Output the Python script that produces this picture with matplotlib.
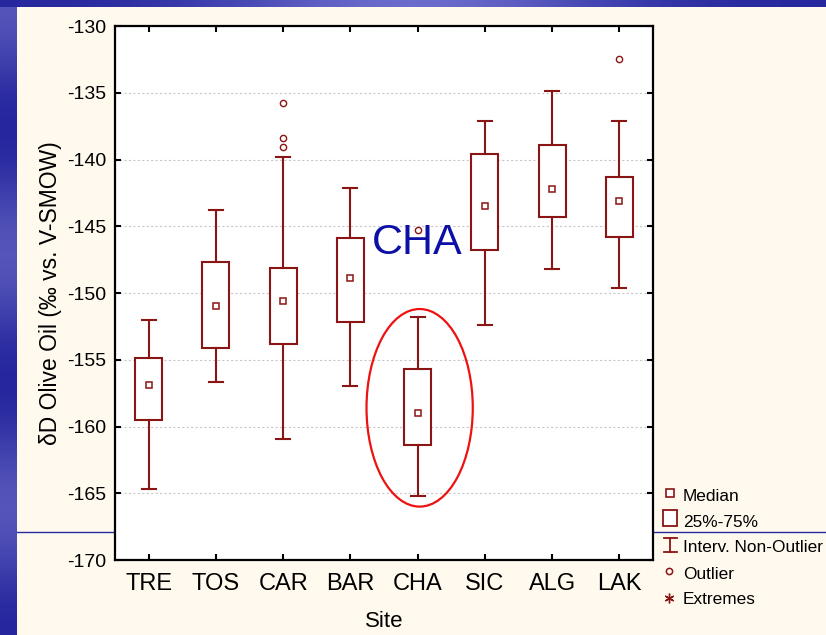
import numpy as np
import matplotlib
matplotlib.use("Agg")
import matplotlib.pyplot as plt
from matplotlib.patches import Ellipse, Rectangle
from matplotlib.lines import Line2D

plt.rcParams['font.family'] = ['Liberation Sans', 'DejaVu Sans']
plt.rcParams['axes.unicode_minus'] = False

# Box-plot summary of deuterium values per site
sites = ["TRE", "TOS", "CAR", "BAR", "CHA", "SIC", "ALG", "LAK"]
medians = [-156.9, -151.0, -150.6, -148.9, -159.0, -143.5, -142.2, -143.1]
q25 = [-159.5, -154.1, -153.8, -152.2, -161.4, -146.8, -144.3, -145.8]
q75 = [-154.9, -147.7, -148.1, -145.9, -155.7, -139.6, -138.9, -141.3]
whisker_low = [-164.7, -156.7, -160.9, -157.0, -165.2, -152.4, -148.2, -149.6]
whisker_high = [-152.0, -143.8, -139.8, -142.1, -151.8, -137.1, -134.9, -137.1]
outliers = {
    "CAR": [-135.8, -138.4, -139.1],
    "CHA": [-145.3],
    "LAK": [-132.5],
}
y_ticks = [-130, -135, -140, -145, -150, -155, -160, -165, -170]

BOX = "#8B1414"
BG = "#FFF9EE"

fig = plt.figure(figsize=(8.26, 6.35), dpi=100)
fig.patch.set_facecolor(BG)

# slide decoration: blue bands on the left and top edges
W, H = 826, 635
band = fig.add_axes([0, 0, 17 / W, 1], zorder=-5)
col_l = np.array([0.15, 0.15, 0.62])
col_h = np.array([0.45, 0.45, 0.80])
prof = 0.5 + 0.5 * np.cos(np.linspace(0, 5 * np.pi, 200))
img = col_l[None, :] * (1 - prof[:, None] * 0.6) + col_h[None, :] * (prof[:, None] * 0.6)
band.imshow(img[:, None, :], aspect="auto", extent=[0, 1, 0, 1])
band.axis("off")

topband = fig.add_axes([0, 1 - 7 / H, 1, 7 / H], zorder=-5)
prof2 = np.exp(-((np.linspace(0, 1, 300) - 0.5) / 0.25) ** 2)
img2 = col_l[None, :] * (1 - prof2[:, None]) + np.array([0.42, 0.42, 0.80])[None, :] * prof2[:, None]
topband.imshow(img2[None, :, :], aspect="auto", extent=[0, 1, 0, 1])
topband.axis("off")

# thin blue rule across the slide
fig.add_artist(Line2D([17 / W, 1], [1 - 531.5 / H, 1 - 531.5 / H],
                      color="#2828A0", lw=1.0, zorder=-4))

ax = fig.add_axes([115 / W, 1 - 560 / H, 538 / W, 534 / H])
ax.set_facecolor("white")

positions = np.arange(1, len(sites) + 1)
stats = []
for i, s in enumerate(sites):
    stats.append(dict(med=medians[i], q1=q25[i], q3=q75[i],
                      whislo=whisker_low[i], whishi=whisker_high[i],
                      fliers=[], label=s))

ax.bxp(stats, positions=positions, widths=0.4, capwidths=0.21,
       patch_artist=True, showfliers=False,
       boxprops=dict(facecolor="white", edgecolor=BOX, linewidth=1.5),
       whiskerprops=dict(color=BOX, linewidth=1.5),
       capprops=dict(color=BOX, linewidth=1.5),
       medianprops=dict(linestyle="none"))

ax.plot(positions, medians, linestyle="none", marker="s", markersize=5,
        markerfacecolor="white", markeredgecolor=BOX, markeredgewidth=1.1, zorder=4)

for s, vals in outliers.items():
    x = sites.index(s) + 1
    ax.plot([x] * len(vals), vals, linestyle="none", marker="o", markersize=4.5,
            markerfacecolor="none", markeredgecolor=BOX, markeredgewidth=1.0, zorder=4)

ax.set_xlim(0.5, 8.5)
ax.set_ylim(-170, -130)
ax.set_yticks(y_ticks)
ax.set_xticks(positions)
ax.set_xticklabels(sites, fontsize=17)
ax.tick_params(axis="y", labelsize=14, pad=6)
ax.tick_params(direction="in", length=4, width=1.5, top=True, right=True)
ax.tick_params(axis="x", pad=9)
ax.yaxis.grid(True, color="#C8C8C8", linestyle=(0, (2, 2)), linewidth=0.8)
ax.set_axisbelow(True)
for sp in ax.spines.values():
    sp.set_linewidth(1.6)

ax.set_ylabel("\u03b4D Olive Oil (\u2030 vs. V-SMOW)", fontsize=16.5, labelpad=4)
ax.set_xlabel("Site", fontsize=16, labelpad=12)

# highlight on CHA
ax.add_patch(Ellipse((5.03, -158.6), 1.58, 14.8, fill=False,
                     edgecolor="#EE1111", linewidth=1.6, zorder=5))
ax.text(5.0, -147.1, "CHA", color="#0C10A6", fontsize=31,
        ha="center", va="baseline", zorder=1)

# legend drawn in figure pixel space
def fx(px):
    return px / W

def fy(py):
    return 1 - py / H

lx = 670
fig.add_artist(Line2D([fx(lx)], [fy(493)], marker="s", markersize=5.5,
                      markerfacecolor="white", markeredgecolor=BOX,
                      markeredgewidth=1.2, linestyle="none"))
fig.add_artist(Rectangle((fx(663), fy(526)), fx(677) - fx(663), fy(510) - fy(526),
                         facecolor="white", edgecolor=BOX, linewidth=1.3,
                         transform=fig.transFigure))
fig.add_artist(Line2D([fx(lx), fx(lx)], [fy(538), fy(552)], color=BOX, lw=1.3))
fig.add_artist(Line2D([fx(664), fx(677)], [fy(538), fy(538)], color=BOX, lw=1.3))
fig.add_artist(Line2D([fx(664), fx(677)], [fy(552), fy(552)], color=BOX, lw=1.3))
fig.add_artist(Line2D([fx(669)], [fy(571)], marker="o", markersize=4.5,
                      markerfacecolor="none", markeredgecolor=BOX,
                      markeredgewidth=1.1, linestyle="none"))
fig.add_artist(Line2D([fx(669)], [fy(598)], marker=(6, 2, 0), markersize=7,
                      color=BOX, markeredgewidth=1.0, linestyle="none"))

labels = [("Median", 501), ("25%-75%", 527), ("Interv. Non-Outlier", 552),
          ("Outlier", 579), ("Extremes", 604)]
for txt, by in labels:
    fig.text(fx(683), fy(by), txt, fontsize=12.4, ha="left", va="baseline", color="black")

fig.savefig("out.png", dpi=100, facecolor=BG)
